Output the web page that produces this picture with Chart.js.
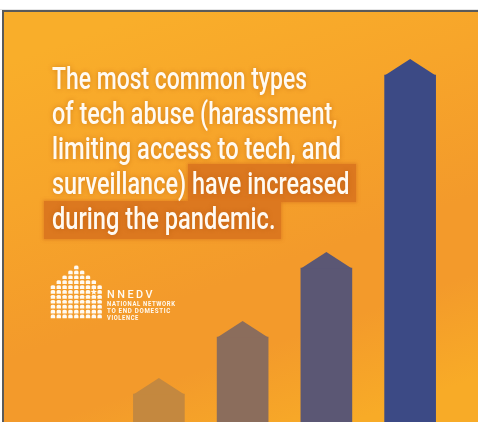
<!DOCTYPE html>
<html><head><meta charset="utf-8">
<script src="https://cdn.jsdelivr.net/npm/chart.js@4"></script>
<style>
html,body{margin:0;padding:0;background:#fff;overflow:hidden}
#wrap{position:relative;width:478px;height:422px;overflow:hidden}
canvas{position:absolute;left:0;top:0}
.t{position:absolute;left:0;top:0;white-space:nowrap;font-family:Roboto,sans-serif;color:#fffaf2;transform-origin:0 0}
.head{font-size:32px;font-weight:500;line-height:32px;text-shadow:0 0 6px rgba(170,80,0,0.45)}
.hl{position:absolute;background:#DC781F;box-shadow:0 0 3px 1px rgba(220,120,31,0.7)}
.mark{display:inline-block;width:0;height:0;vertical-align:baseline}
</style></head><body>
<div id="wrap">
<canvas id="c" width="478" height="422"></canvas>
<div class="hl" style="left:188px;top:164px;width:168px;height:38px"></div>
<div class="hl" style="left:44px;top:201px;width:237px;height:38px"></div>
</div>
<script>
// ---- data ----
const categories = ['Type 1', 'Type 2', 'Type 3', 'Type 4'];
const values = [28, 85, 154, 347];
const headlineLines = [
  'The most common types',
  'of tech abuse (harassment,',
  'limiting access to tech, and',
  'surveillance) have increased',
  'during the pandemic.'
];
const logoName = 'NNEDV';
const logoLines = ['NATIONAL NETWORK', 'TO END DOMESTIC', 'VIOLENCE'];

// ---- layout of text ----
const headLayout = [
  {x: 51.7, base: 89.3, w: 255},
  {x: 51.7, base: 124.3, w: 285.5},
  {x: 51.7, base: 159.3, w: 289},
  {x: 51.7, base: 194.3, w: 297.5},
  {x: 51.7, base: 229.3, w: 223.5}
];
const wrap = document.getElementById('wrap');
function placeText(txt, cls, style, x, base, w) {
  const d = document.createElement('div');
  d.className = 't ' + cls;
  d.setAttribute('style', style || '');
  d.textContent = txt;
  const m = document.createElement('span');
  m.className = 'mark';
  d.appendChild(m);
  wrap.appendChild(d);
  const r = d.getBoundingClientRect();
  const mb = m.getBoundingClientRect().bottom - r.top;
  const nat = r.width;
  const s = w ? w / nat : 1;
  d.style.left = x + 'px';
  d.style.top = (base - mb) + 'px';
  d.style.transform = 'scaleX(' + s + ')';
}
headlineLines.forEach((t, i) => placeText(t, 'head', '', headLayout[i].x, headLayout[i].base, headLayout[i].w));
placeText(logoName, '', 'font-size:11.3px;font-weight:500;letter-spacing:2.6px;', 107, 297.5, 48);
const logoBases = [306.3, 313, 319.6];
const logoW = [68.7, 64, 32];
logoLines.forEach((t, i) => placeText(t, '', 'font-size:6.3px;font-weight:700;letter-spacing:0.7px;', 107, logoBases[i], logoW[i]));

// ---- plugins ----
const backdrop = {
  id: 'backdrop',
  beforeDraw(chart) {
    const ctx = chart.ctx;
    ctx.save();
    ctx.fillStyle = '#ffffff';
    ctx.fillRect(0, 0, 478, 422);
    ctx.fillStyle = '#e6e6e6';
    ctx.fillRect(0, 9, 478, 1);
    ctx.fillStyle = '#5a5a5a';
    ctx.fillRect(2, 10, 476, 2);
    ctx.fillRect(2, 10, 2, 412);
    const g = ctx.createLinearGradient(150, 12, 300, 440);
    g.addColorStop(0, '#F9AE2A');
    g.addColorStop(0.3, '#F7A52A');
    g.addColorStop(0.62, '#F39A2B');
    g.addColorStop(0.78, '#F39A2B');
    g.addColorStop(1, '#F8AB27');
    ctx.fillStyle = g;
    ctx.fillRect(4, 12, 474, 410);
    ctx.restore();
  }
};
const arrowTips = {
  id: 'arrowTips',
  afterDatasetsDraw(chart) {
    const ctx = chart.ctx;
    const meta = chart.getDatasetMeta(0);
    ctx.save();
    meta.data.forEach(bar => {
      const p = bar.getProps(['x', 'y', 'width'], true);
      ctx.fillStyle = bar.options.backgroundColor;
      ctx.beginPath();
      ctx.moveTo(p.x - p.width / 2, p.y + 0.5);
      ctx.lineTo(p.x, p.y - p.width * 0.315);
      ctx.lineTo(p.x + p.width / 2, p.y + 0.5);
      ctx.closePath();
      ctx.fill();
    });
    ctx.restore();
  }
};
function star(ctx, cx, cy, R, r) {
  ctx.beginPath();
  for (let i = 0; i < 10; i++) {
    const a = -Math.PI / 2 + i * Math.PI / 5;
    const rr = i % 2 ? r : R;
    ctx.lineTo(cx + rr * Math.cos(a), cy + rr * Math.sin(a));
  }
  ctx.closePath();
  ctx.fill();
}
const logo = {
  id: 'logo',
  afterDraw(chart) {
    const ctx = chart.ctx;
    ctx.save();
    ctx.fillStyle = '#fffaf2';
    const cx = 76.3, pitchX = 5.84, y0 = 267.5, pitchY = 4.9;
    for (let r = 0; r < 11; r++) {
      const n = r < 4 ? 2 * r + 1 : 9;
      for (let c = 0; c < n; c++) {
        const x = cx + (c - (n - 1) / 2) * pitchX;
        const y = y0 + r * pitchY;
        if (r === 5 && c === 7) { star(ctx, x, y, 3.4, 1.4); continue; }
        ctx.beginPath();
        ctx.moveTo(x - 2.2, y + 1.8);
        ctx.lineTo(x - 2.2, y - 0.6);
        ctx.quadraticCurveTo(x - 2.2, y - 1.9, x, y - 1.9);
        ctx.quadraticCurveTo(x + 2.2, y - 1.9, x + 2.2, y - 0.6);
        ctx.lineTo(x + 2.2, y + 1.8);
        ctx.closePath();
        ctx.fill();
      }
    }
    ctx.restore();
  }
};

new Chart(document.getElementById('c'), {
  type: 'bar',
  data: {
    labels: categories,
    datasets: [{
      data: values,
      backgroundColor: ['#C4883F', '#8B6D5C', '#5B5774', '#3C4A85'],
      borderWidth: 0,
      barThickness: 51
    }]
  },
  options: {
    responsive: false,
    animation: false,
    events: [],
    layout: {padding: {left: 117, right: 26, top: 12, bottom: 0}},
    plugins: {legend: {display: false}, tooltip: {enabled: false}},
    scales: {
      x: {display: false, grid: {display: false}},
      y: {display: false, min: 0, max: 410, grid: {display: false}}
    }
  },
  plugins: [backdrop, arrowTips, logo]
});
</script>
</body></html>
